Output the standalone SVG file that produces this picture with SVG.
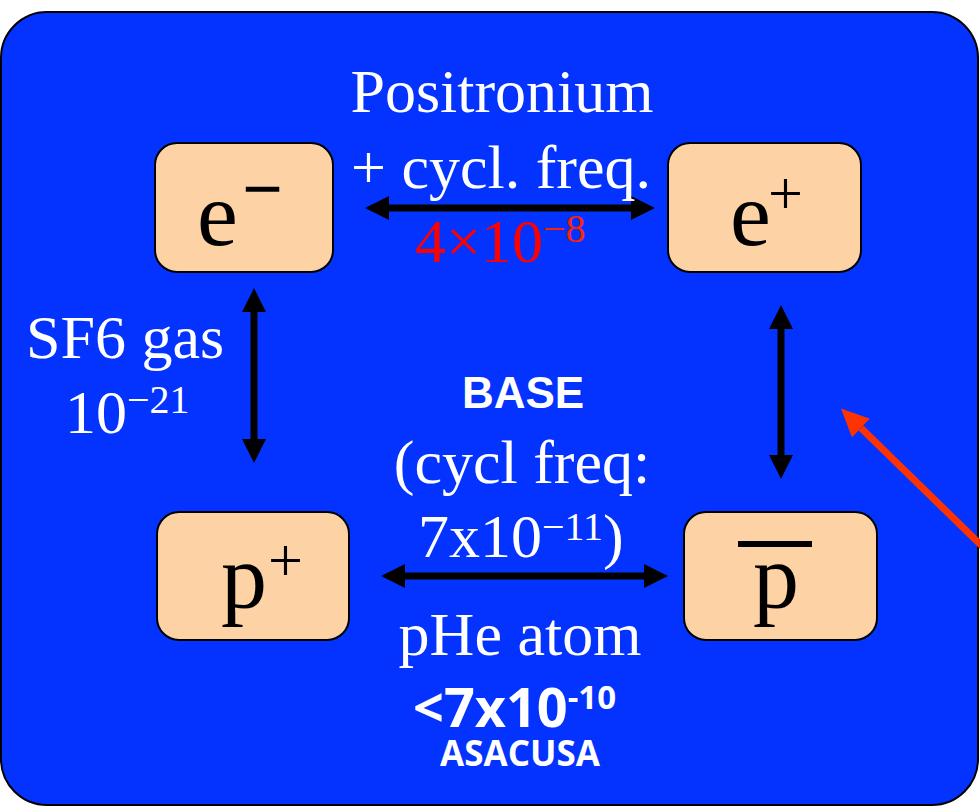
<svg xmlns="http://www.w3.org/2000/svg" width="980" height="806" viewBox="0 0 980 806">
<style>
.serif{font-family:"Liberation Serif","Times New Roman",serif;}
.w{fill:#fff;}
.box{fill:#FDD3A6;stroke:#000;stroke-width:2;}
.big{font-size:92px;fill:#000;}
.lbl{font-size:62px;}
.conn{stroke:#000;stroke-width:7;fill:none;marker-start:url(#ah);marker-end:url(#ah);}
.sans{font-family:"Open Sans","Liberation Sans",Arial,sans-serif;font-weight:700;fill:#fff;}
</style>
<defs>
<marker id="ah" markerUnits="userSpaceOnUse" markerWidth="24" markerHeight="24" refX="0" refY="12" orient="auto-start-reverse" viewBox="0 0 24 24">
<path d="M0,0 L24,12 L0,24 z" fill="#000"/>
</marker>
<marker id="rh" markerUnits="userSpaceOnUse" markerWidth="28" markerHeight="26" refX="0" refY="13" orient="auto" viewBox="0 0 28 26">
<path d="M0,0 L28,13 L0,26 z" fill="#FF3300"/>
</marker>
</defs>
<rect id="panel" x="1" y="12" width="977" height="793" rx="46" ry="46" fill="#0433FF" stroke="#000" stroke-width="2"/>

<g id="connectors">
<line class="conn" x1="389" y1="208" x2="631" y2="208"/>
<line class="conn" x1="254" y1="312" x2="254" y2="439"/>
<line class="conn" x1="781" y1="329" x2="781" y2="455"/>
<line class="conn" x1="405" y1="576" x2="644" y2="576"/>
<line x1="986" y1="550" x2="861" y2="428" stroke="#FF3300" stroke-width="7" marker-end="url(#rh)"/>
</g>

<g id="node-eminus">
<rect class="box" x="155" y="143" width="178" height="129" rx="22"/>
<text class="serif big" x="197" y="245">e</text>
<text class="serif" x="242" y="213" font-size="72" font-weight="bold" fill="#000">−</text>
</g>
<g id="node-eplus">
<rect class="box" x="668" y="143" width="193" height="129" rx="22"/>
<text class="serif big" x="730" y="245">e</text>
<text class="serif" x="768" y="214" font-size="62" fill="#000">+</text>
</g>
<g id="node-pplus">
<rect class="box" x="157" y="512" width="192" height="128" rx="22"/>
<text class="serif big" x="221" y="608">p</text>
<text class="serif" x="268" y="581" font-size="62" fill="#000">+</text>
</g>
<g id="node-pbar">
<rect class="box" x="684" y="512" width="193" height="128" rx="22"/>
<line x1="738" y1="544" x2="812" y2="544" stroke="#000" stroke-width="6"/>
<text class="serif big" x="753" y="608">p</text>
</g>

<g id="labels">
<text class="serif w lbl" x="502" y="112" text-anchor="middle">Positronium</text>
<text class="serif w lbl" x="501" y="188" text-anchor="middle">+ cycl. freq.</text>
<text class="serif lbl" x="415" y="262" fill="#FF0000">4×10<tspan font-size="40" dy="-20" fill="#FF2200">−8</tspan></text>

<text class="serif w lbl" x="125" y="358" text-anchor="middle">SF6 gas</text>
<text class="serif w lbl" x="65" y="433">10<tspan font-size="40" dy="-20">−21</tspan></text>

<text x="523" y="408" text-anchor="middle" font-family="'Liberation Sans',Arial,sans-serif" font-weight="700" font-size="44" fill="#fff">BASE</text>
<text class="serif w lbl" x="522" y="483" text-anchor="middle">(cycl freq:</text>
<text class="serif w lbl" x="418" y="557">7x10<tspan font-size="40" dy="-17">−11</tspan><tspan dy="17">)</tspan></text>

<text class="serif w lbl" x="520" y="655" text-anchor="middle">pHe atom</text>
<text class="sans" x="413" y="727" font-size="54">&lt;7x10<tspan font-size="33" dy="-18">-10</tspan></text>
<text class="sans" x="520" y="766" font-size="35" text-anchor="middle">ASACUSA</text>
</g>
</svg>
